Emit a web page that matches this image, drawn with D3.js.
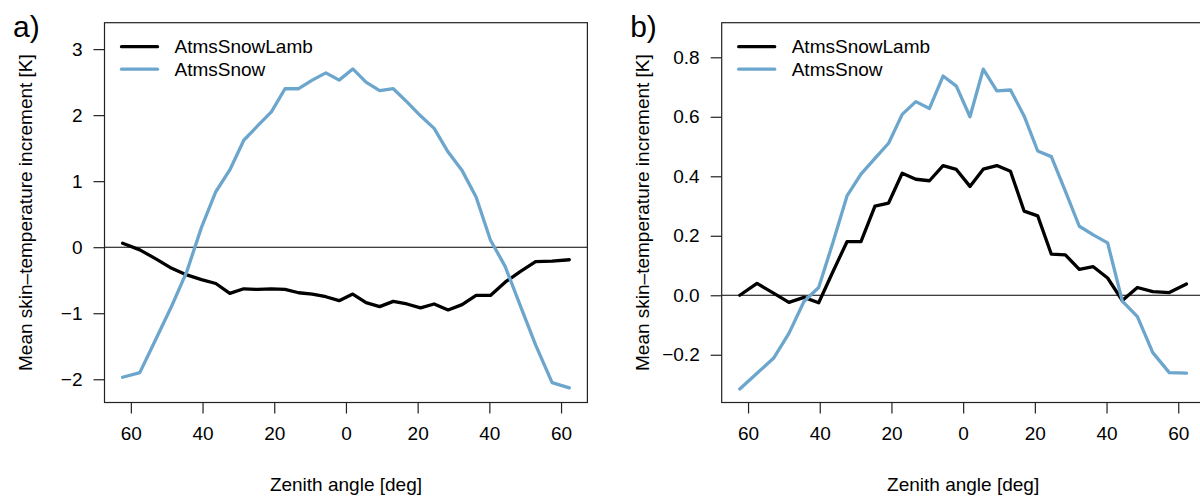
<!DOCTYPE html>
<html>
<head>
<meta charset="utf-8">
<script src="https://cdn.jsdelivr.net/npm/d3@7"></script>
<style>
    body{margin:0;background:#fff;}
    svg{display:block;font-family:"Liberation Sans",Arial,Helvetica,sans-serif;}
</style>
</head>
<body>
<div class="chart_container"></div>
<script>
// zenith angle of each scan bin [deg]
var zenith = [-62.3,-57.5,-52.9,-48.6,-44.4,-40.3,-36.3,-32.4,-28.5,-24.6,-20.8,-17.0,-13.2,-9.4,-5.6,-1.9,
               1.9,5.6,9.4,13.2,17.0,20.8,24.6,28.5,32.4,36.3,40.3,44.4,48.6,52.9,57.5,62.3];
// panel a)
var lambA = [0.06,-0.04,-0.18,-0.32,-0.42,-0.49,-0.55,-0.70,-0.63,-0.64,-0.63,-0.64,-0.69,-0.71,-0.75,-0.81,
             -0.71,-0.84,-0.90,-0.82,-0.86,-0.92,-0.86,-0.95,-0.87,-0.73,-0.73,-0.53,-0.37,-0.22,-0.21,-0.19];
var snowA = [-1.97,-1.90,-1.38,-0.89,-0.37,0.30,0.84,1.17,1.62,1.84,2.05,2.40,2.40,2.53,2.64,2.53,
             2.70,2.50,2.37,2.40,2.20,1.99,1.80,1.44,1.16,0.76,0.11,-0.29,-0.88,-1.48,-2.05,-2.13];
// panel b)
var lambB = [0.000,0.040,0.007,-0.024,-0.007,-0.025,0.080,0.180,0.180,0.300,0.310,0.410,0.390,0.385,0.436,0.423,
             0.366,0.424,0.436,0.417,0.283,0.267,0.138,0.136,0.087,0.096,0.058,-0.018,0.026,0.012,0.009,0.038];
var snowB = [-0.315,-0.262,-0.212,-0.128,-0.021,0.026,0.178,0.334,0.407,0.460,0.511,0.608,0.651,0.628,0.737,0.703,
             0.600,0.760,0.687,0.690,0.603,0.485,0.466,0.350,0.232,0.203,0.176,-0.020,-0.072,-0.193,-0.260,-0.262];

var seriesNames = ["AtmsSnowLamb","AtmsSnow"];
var seriesColors = ["#000000","#6ca6cd"];
var xTicks = [-60,-40,-20,0,20,40,60];
var yTicksA = [-2,-1,0,1,2,3];
var yTicksB = [-0.2,0,0.2,0.4,0.6,0.8];
var xTitle = "Zenith angle [deg]";
var yTitle = "Mean skin\u2013temperature increment [K]";

var W = 1200, H = 496;
var svg = d3.select(".chart_container").append("svg")
    .attr("width",W).attr("height",H);

var fs = 19;

function drawPanel(opt){
    var g = svg.append("g");
    var x = d3.scaleLinear().domain([-67.35,67.35]).range([opt.left,opt.right]);
    var y = d3.scaleLinear().domain(opt.ydom).range([402.5,22.7]);

    var clipId = "clip" + opt.tag;
    g.append("clipPath").attr("id",clipId).append("rect")
        .attr("x",opt.left).attr("y",22.7)
        .attr("width",opt.right-opt.left).attr("height",402.5-22.7);

    /*零线*/
    g.append("line")
        .attr("x1",opt.left).attr("x2",opt.right)
        .attr("y1",y(0)).attr("y2",y(0))
        .attr("stroke","#000").attr("stroke-width",1.1);

    var line = d3.line()
        .x(function(d){ return x(d[0]); })
        .y(function(d){ return y(d[1]); });

    opt.series.forEach(function(s,i){
        g.append("path")
            .datum(d3.zip(zenith,s))
            .attr("clip-path","url(#"+clipId+")")
            .attr("fill","none")
            .attr("stroke",seriesColors[i])
            .attr("stroke-width",3.3)
            .attr("stroke-linejoin","round")
            .attr("stroke-linecap","round")
            .attr("d",line);
    });

    /*坐标轴*/
    var xAxis = d3.axisBottom(x).tickValues(xTicks).tickSize(11).tickPadding(13)
        .tickFormat(function(d){ return Math.abs(d); });
    var gx = g.append("g")
        .attr("transform","translate(0,402.5)")
        .call(xAxis);
    var yAxis = d3.axisLeft(y).tickValues(opt.yticks).tickSize(11).tickPadding(11)
        .tickFormat(opt.fmt);
    var gy = g.append("g")
        .attr("transform","translate(" + opt.left + ",0)")
        .call(yAxis);
    [gx,gy].forEach(function(a){
        a.select(".domain").remove();
        a.selectAll("line").attr("stroke","#222").attr("stroke-width",1.2);
        a.selectAll("text").attr("font-size",fs).attr("fill","#000").attr("font-family",null);
    });
    gx.selectAll("text").attr("dy","0.72em");

    /*边框*/
    g.append("rect")
        .attr("x",opt.left).attr("y",22.7)
        .attr("width",opt.right-opt.left).attr("height",402.5-22.7)
        .attr("fill","none").attr("stroke","#222").attr("stroke-width",1.2);

    /*图例*/
    seriesNames.forEach(function(n,i){
        var ly = 46.7 + i*22.5;
        g.append("line")
            .attr("x1",opt.left+17).attr("x2",opt.left+53)
            .attr("y1",ly).attr("y2",ly)
            .attr("stroke",seriesColors[i]).attr("stroke-width",3.3)
            .attr("stroke-linecap","round");
        g.append("text")
            .attr("x",opt.left+70).attr("y",ly).attr("dy","0.35em")
            .attr("font-size",fs).text(n);
    });

    g.append("text")
        .attr("x",(opt.left+opt.right)/2).attr("y",484).attr("dy","0.35em")
        .attr("text-anchor","middle").attr("font-size",fs).text(xTitle);
    g.append("text")
        .attr("transform","translate(" + (opt.left-79.5) + "," + ((22.7+402.5)/2) + ") rotate(-90)")
        .attr("dy","0.35em")
        .attr("text-anchor","middle").attr("font-size",fs).text(yTitle);
    g.append("text")
        .attr("x",opt.left-91.5).attr("y",37)
        .attr("font-size",30).text(opt.tag + ")");
}

drawPanel({tag:"a",left:104.5,right:587.4,ydom:[-2.352,3.40],yticks:yTicksA,
    fmt:d3.format("d"),series:[lambA,snowA]});
drawPanel({tag:"b",left:721.7,right:1204.6,ydom:[-0.3605,0.9163],yticks:yTicksB,
    fmt:d3.format(".1f"),series:[lambB,snowB]});
</script>
</body>
</html>
